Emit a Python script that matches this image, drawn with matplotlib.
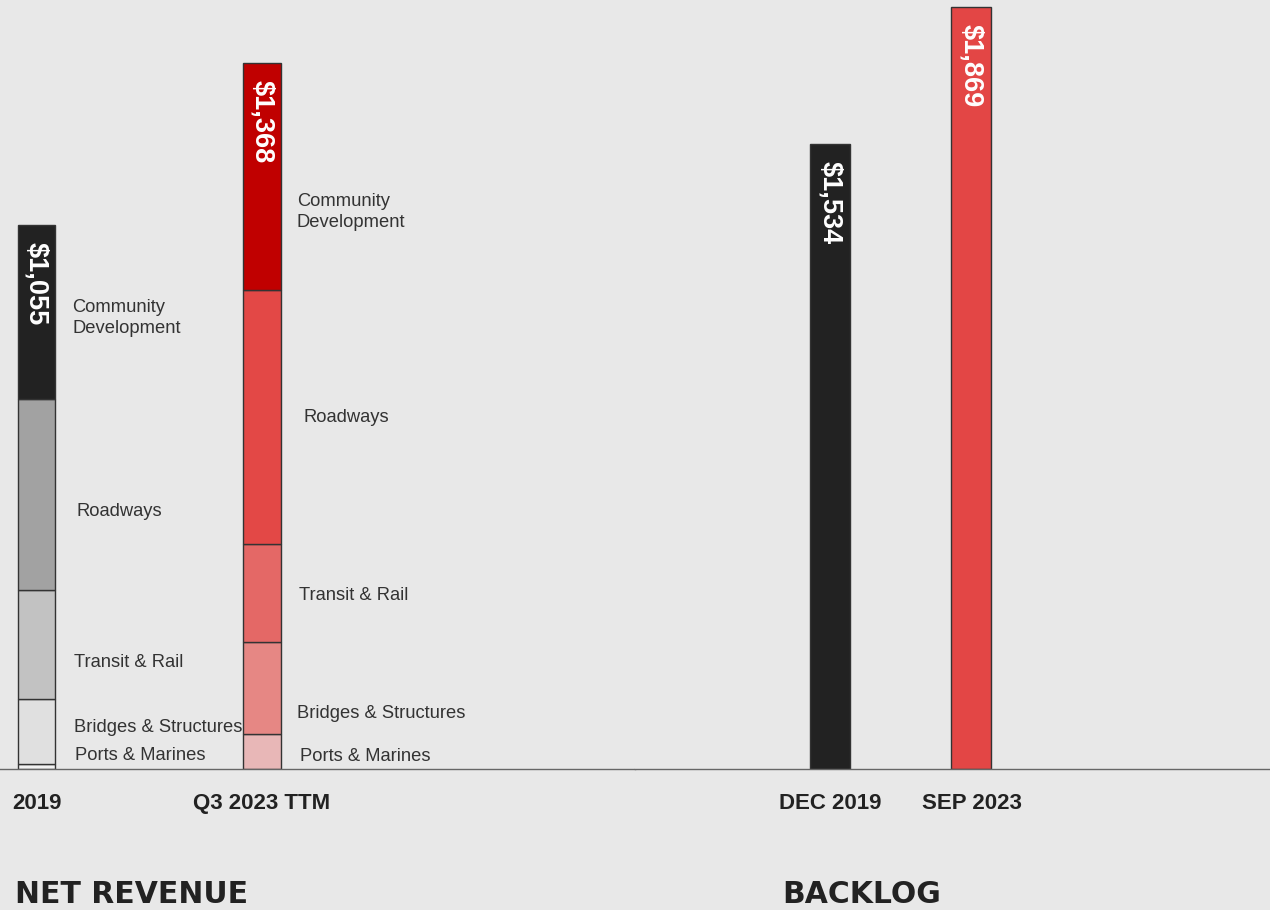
import matplotlib
matplotlib.use('Agg')
from matplotlib import pyplot as plt

# net revenue ($M), stacked by market
rev_periods = ['2019', 'Q3 2023 TTM']
segments = ['Ports & Marines', 'Bridges & Structures', 'Transit & Rail', 'Roadways', 'Community\nDevelopment']
rev_2019 = [10, 126, 211, 370, 338]
rev_q3_2023 = [68, 178, 190, 493, 439]
rev_totals = ['$1,055', '$1,368']

# backlog ($M)
backlog_periods = ['DEC 2019', 'SEP 2023']
backlog = [1534, 1869]
backlog_labels = ['$1,534', '$1,869']

BG = '#e8e8e8'
grey_shades = ['#f2f2f2', '#e0e0e0', '#c2c2c2', '#a2a2a2', '#222222']
red_shades = ['#e8b7b7', '#e68784', '#e46866', '#e34846', '#c00000']
backlog_colors = ['#222222', '#e34645']

SANS = ['Liberation Sans', 'DejaVu Sans']

# label placement per segment: (y in $M, x offset in px from bar edge)
label_pos = [
    [(27, 20), (81, 19), (207, 19), (500, 21), (875, 17)],
    [(25, 19), (107, 16), (337, 18), (681, 23), (1080, 16)],
]

fig = plt.figure(figsize=(12.7, 9.1), dpi=100, facecolor=BG)
ax1 = fig.add_axes([0, 141 / 910, 0.5, 769 / 910], facecolor=BG)
ax2 = fig.add_axes([0.5, 141 / 910, 0.5, 769 / 910], facecolor=BG)

width1 = 0.166
for i, (vals, cols) in enumerate([(rev_2019, grey_shades), (rev_q3_2023, red_shades)]):
    bottom = 0
    for j, v in enumerate(vals):
        ax1.bar(i, v, width1, bottom=bottom, color=cols[j], edgecolor='#333333', linewidth=1)
        y, dx = label_pos[i][j]
        ax1.annotate(segments[j], xy=(i + width1 / 2, y), xytext=(dx * 0.72, 0),
                     textcoords='offset points', ha='left', va='center',
                     fontsize=13.2, family=SANS, color='#333333', linespacing=1.3)
        bottom += v
    ax1.annotate(rev_totals[i], xy=(i, bottom), xytext=(0, -17 * 0.72), textcoords='offset points',
                 rotation=270, ha='center', va='top', color='white', fontsize=19.5,
                 fontweight='bold', family=SANS)

width2 = 0.283
for i, v in enumerate(backlog):
    ax2.bar(i, v, width2, color=backlog_colors[i], edgecolor='#333333', linewidth=1)
    ax2.annotate(backlog_labels[i], xy=(i, v), xytext=(0, -17 * 0.72), textcoords='offset points',
                 rotation=270, ha='center', va='top', color='white', fontsize=19.5,
                 fontweight='bold', family=SANS)

ax1.set_xlim(-0.162, 2.654)
ax1.set_ylim(0, 1491)
ax2.set_xlim(-1.378, 3.11)
ax2.set_ylim(0, 1886)

for ax, labels in [(ax1, rev_periods), (ax2, backlog_periods)]:
    ax.set_xticks(range(len(labels)))
    ax.set_xticklabels(labels, fontsize=16, fontweight='bold', family=SANS, color='#222222')
    ax.tick_params(axis='x', length=0, pad=17)
    ax.set_yticks([])
    for s in ['top', 'left', 'right']:
        ax.spines[s].set_visible(False)
    ax.spines['bottom'].set_color('#666666')
    ax.spines['bottom'].set_linewidth(1)

fig.text(15 / 1270, 1 - 903 / 910, 'NET REVENUE', fontsize=21.5, fontweight='bold',
         family='DejaVu Sans', color='#222222', va='baseline', ha='left')
fig.text(782 / 1270, 1 - 903 / 910, 'BACKLOG', fontsize=21.5, fontweight='bold',
         family='DejaVu Sans', color='#222222', va='baseline', ha='left')

fig.savefig('out.png', dpi=100, facecolor=BG)
